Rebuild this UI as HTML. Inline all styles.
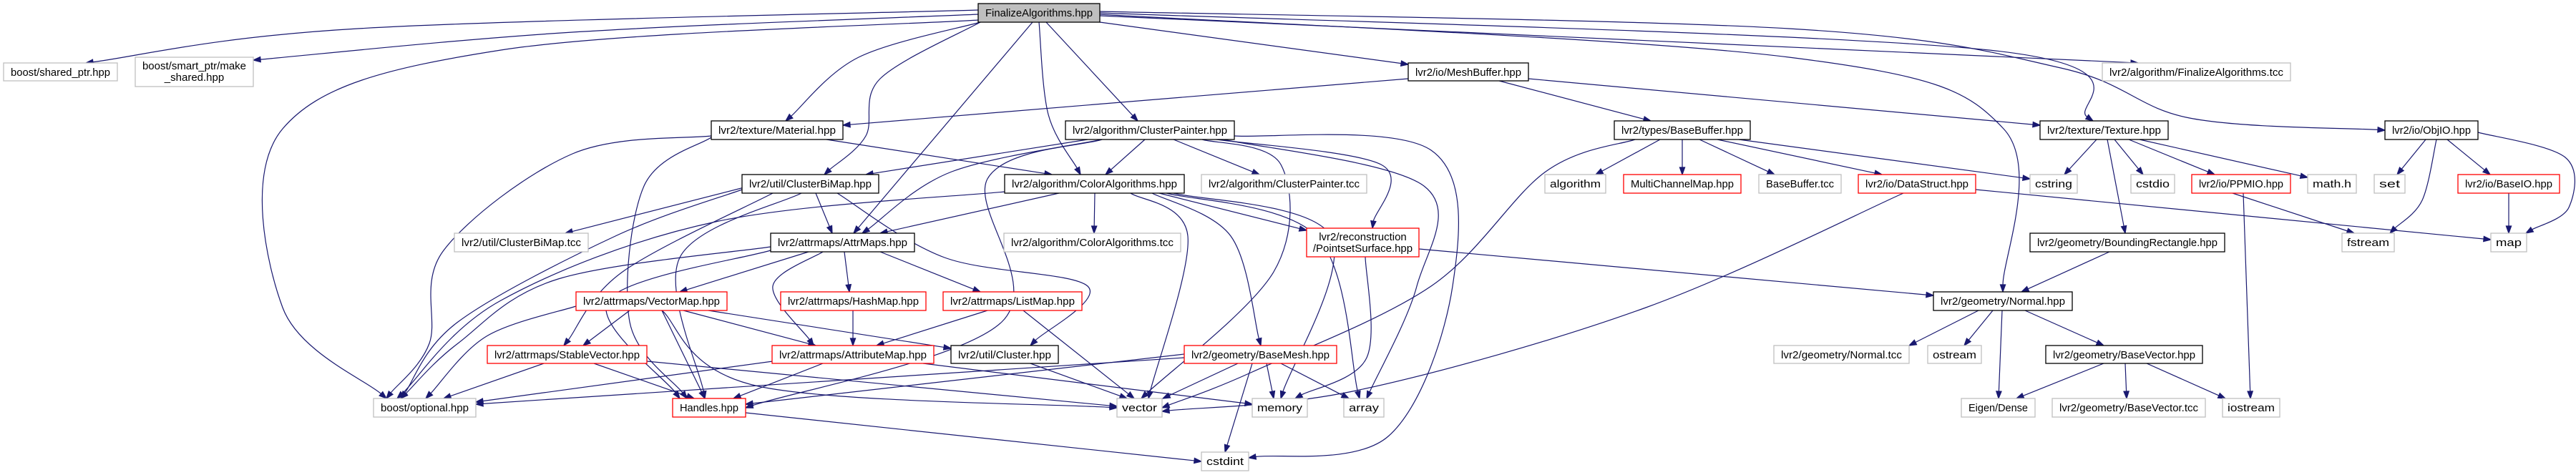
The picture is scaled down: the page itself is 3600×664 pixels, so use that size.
<!DOCTYPE html>
<html><head><meta charset="utf-8">
<style>
html,body{margin:0;padding:0;background:#fff;}
svg{display:block;}
text{font-family:"Liberation Sans Narrow","Liberation Sans",sans-serif;font-size:15px;fill:#000;text-anchor:middle;}
</style></head>
<body>
<svg id="g" width="3600" height="664" viewBox="0 0 3600 664" xmlns="http://www.w3.org/2000/svg">
<g id="edges" fill="none" stroke="#191970" stroke-width="1.2"></g>
<g id="nodes" stroke-width="1.3">
<rect x="1367" y="5" width="170" height="26" fill="#bfbfbf" stroke="#000"/><text x="1452" y="23">FinalizeAlgorithms.hpp</text>
<rect x="5" y="88" width="159" height="25" fill="#fff" stroke="#bfbfbf"/><text x="84.5" y="106">boost/shared_ptr.hpp</text>
<rect x="189" y="80" width="165" height="41" fill="#fff" stroke="#bfbfbf"/><text class="m" x="271.5" y="97">boost/smart_ptr/make</text><text class="m" x="271.5" y="113">_shared.hpp</text>
<rect x="522" y="557" width="143" height="26" fill="#fff" stroke="#bfbfbf"/><text x="593.5" y="575">boost/optional.hpp</text>
<rect x="635" y="326" width="187" height="26" fill="#fff" stroke="#bfbfbf"/><text x="728.5" y="344">lvr2/util/ClusterBiMap.tcc</text>
<rect x="681" y="483" width="223" height="25" fill="#fff" stroke="#ff0000"/><text x="792.5" y="501">lvr2/attrmaps/StableVector.hpp</text>
<rect x="805" y="408" width="211" height="26" fill="#fff" stroke="#ff0000"/><text x="910.5" y="426">lvr2/attrmaps/VectorMap.hpp</text>
<rect x="994" y="169" width="184" height="26" fill="#fff" stroke="#000"/><text x="1086" y="187">lvr2/texture/Material.hpp</text>
<rect x="1489" y="169" width="236" height="26" fill="#fff" stroke="#000"/><text x="1607" y="187">lvr2/algorithm/ClusterPainter.hpp</text>
<rect x="1037" y="244" width="191" height="26" fill="#fff" stroke="#000"/><text x="1132.5" y="262">lvr2/util/ClusterBiMap.hpp</text>
<rect x="1404" y="244" width="251" height="26" fill="#fff" stroke="#000"/><text x="1529.5" y="262">lvr2/algorithm/ColorAlgorithms.hpp</text>
<rect x="1679" y="244" width="231" height="26" fill="#fff" stroke="#bfbfbf"/><text x="1794.5" y="262">lvr2/algorithm/ClusterPainter.tcc</text>
<rect x="1077" y="326" width="201" height="26" fill="#fff" stroke="#000"/><text x="1177.5" y="344">lvr2/attrmaps/AttrMaps.hpp</text>
<rect x="1403" y="326" width="247" height="26" fill="#fff" stroke="#bfbfbf"/><text x="1526.5" y="344">lvr2/algorithm/ColorAlgorithms.tcc</text>
<rect x="1091" y="408" width="203" height="26" fill="#fff" stroke="#ff0000"/><text x="1192.5" y="426">lvr2/attrmaps/HashMap.hpp</text>
<rect x="1318" y="408" width="194" height="26" fill="#fff" stroke="#ff0000"/><text x="1415" y="426">lvr2/attrmaps/ListMap.hpp</text>
<rect x="1079" y="483" width="226" height="25" fill="#fff" stroke="#ff0000"/><text x="1192" y="501">lvr2/attrmaps/AttributeMap.hpp</text>
<rect x="1329" y="483" width="150" height="25" fill="#fff" stroke="#000"/><text x="1404" y="501">lvr2/util/Cluster.hpp</text>
<rect x="1655" y="483" width="213" height="25" fill="#fff" stroke="#ff0000"/><text x="1761.5" y="501">lvr2/geometry/BaseMesh.hpp</text>
<rect x="940" y="557" width="102" height="26" fill="#fff" stroke="#ff0000"/><text x="991" y="575">Handles.hpp</text>
<rect x="1561" y="557" width="63" height="26" fill="#fff" stroke="#bfbfbf"/><text x="1592.5" y="575">vector</text>
<rect x="1750" y="557" width="77" height="26" fill="#fff" stroke="#bfbfbf"/><text x="1788.5" y="575">memory</text>
<rect x="1679" y="632" width="66" height="26" fill="#fff" stroke="#bfbfbf"/><text x="1712" y="650">cstdint</text>
<rect x="1968" y="88" width="168" height="25" fill="#fff" stroke="#000"/><text x="2052" y="106">lvr2/io/MeshBuffer.hpp</text>
<rect x="2256" y="169" width="190" height="26" fill="#fff" stroke="#000"/><text x="2351" y="187">lvr2/types/BaseBuffer.hpp</text>
<rect x="2159" y="244" width="85" height="26" fill="#fff" stroke="#bfbfbf"/><text x="2201.5" y="262">algorithm</text>
<rect x="2269" y="244" width="164" height="26" fill="#fff" stroke="#ff0000"/><text x="2351" y="262">MultiChannelMap.hpp</text>
<rect x="2458" y="244" width="115" height="26" fill="#fff" stroke="#bfbfbf"/><text x="2515.5" y="262">BaseBuffer.tcc</text>
<rect x="2597" y="244" width="164" height="26" fill="#fff" stroke="#ff0000"/><text x="2679" y="262">lvr2/io/DataStruct.hpp</text>
<rect x="1826" y="319" width="157" height="40" fill="#fff" stroke="#ff0000"/><text class="m" x="1904.5" y="336">lvr2/reconstruction</text><text class="m" x="1904.5" y="352">/PointsetSurface.hpp</text>
<rect x="1878" y="557" width="56" height="26" fill="#fff" stroke="#bfbfbf"/><text x="1906" y="575">array</text>
<rect x="2479" y="483" width="189" height="25" fill="#fff" stroke="#bfbfbf"/><text x="2573.5" y="501">lvr2/geometry/Normal.tcc</text>
<rect x="2694" y="483" width="75" height="25" fill="#fff" stroke="#bfbfbf"/><text x="2731.5" y="501">ostream</text>
<rect x="2938" y="88" width="263" height="25" fill="#fff" stroke="#bfbfbf"/><text x="3069.5" y="106">lvr2/algorithm/FinalizeAlgorithms.tcc</text>
<rect x="2851" y="169" width="179" height="26" fill="#fff" stroke="#000"/><text x="2940.5" y="187">lvr2/texture/Texture.hpp</text>
<rect x="3333" y="169" width="130" height="26" fill="#fff" stroke="#000"/><text x="3398" y="187">lvr2/io/ObjIO.hpp</text>
<rect x="2837" y="244" width="66" height="26" fill="#fff" stroke="#bfbfbf"/><text x="2870" y="262">cstring</text>
<rect x="2978" y="244" width="61" height="26" fill="#fff" stroke="#bfbfbf"/><text x="3008.5" y="262">cstdio</text>
<rect x="3063" y="244" width="138" height="26" fill="#fff" stroke="#ff0000"/><text x="3132" y="262">lvr2/io/PPMIO.hpp</text>
<rect x="3225" y="244" width="68" height="26" fill="#fff" stroke="#bfbfbf"/><text x="3259" y="262">math.h</text>
<rect x="3318" y="244" width="43" height="26" fill="#fff" stroke="#bfbfbf"/><text x="3339.5" y="262">set</text>
<rect x="3435" y="244" width="142" height="26" fill="#fff" stroke="#ff0000"/><text x="3506" y="262">lvr2/io/BaseIO.hpp</text>
<rect x="2837" y="326" width="272" height="26" fill="#fff" stroke="#000"/><text x="2973" y="344">lvr2/geometry/BoundingRectangle.hpp</text>
<rect x="3273" y="326" width="73" height="26" fill="#fff" stroke="#bfbfbf"/><text x="3309.5" y="344">fstream</text>
<rect x="3481" y="326" width="50" height="26" fill="#fff" stroke="#bfbfbf"/><text x="3506" y="344">map</text>
<rect x="2702" y="408" width="194" height="26" fill="#fff" stroke="#000"/><text x="2799" y="426">lvr2/geometry/Normal.hpp</text>
<rect x="2859" y="483" width="219" height="25" fill="#fff" stroke="#000"/><text x="2968.5" y="501">lvr2/geometry/BaseVector.hpp</text>
<rect x="2741" y="557" width="103" height="26" fill="#fff" stroke="#bfbfbf"/><text x="2792.5" y="575">Eigen/Dense</text>
<rect x="2868" y="557" width="214" height="26" fill="#fff" stroke="#bfbfbf"/><text x="2975" y="575">lvr2/geometry/BaseVector.tcc</text>
<rect x="3106" y="557" width="80" height="26" fill="#fff" stroke="#bfbfbf"/><text x="3146" y="575">iostream</text>
</g>
</svg>
<script>
var E=[
["F","SP",[1367,14],[120,88],[[500,40]]],
["F","MS",[1367,20],[354,84],[[800,45]]],
["F","BO",[1367,28],[540,557],[[700,70],[395,180],[395,430]]],
["F","MAT",[1370,31],[1098,169],[[1200,80]]],
["F","CBM",[1370,31],[1152,244],[[1230,110],[1210,190]]],
["F","AM",[1443,31],[1193,326]],
["F","CA",[1452,31],[1510,244],[[1465,160]]],
["F","CP",[1462,31],[1590,169]],
["F","MB",[1537,31],[1968,90]],
["F","NOR",[1537,20],[2799,408],[[2500,80],[2800,180]]],
["F","TEX",[1537,18],[2925,169],[[2780,70]]],
["F","FAT",[1537,22],[2988,88]],
["F","OBJ",[1537,16],[3333,182],[[2500,40],[2880,95],[3060,165]]],
["MB","MAT",[1968,110],[1178,175]],
["MB","BB",[2095,113],[2307,169]],
["MB","TEX",[2136,110],[2851,175]],
["MAT","CA",[1155,195],[1470,244]],
["MAT","BO",[994,190],[540,557],[[800,215],[620,350],[600,480]]],
["MAT","HD",[994,192],[960,557],[[900,260],[880,450]]],
["CP","CBM",[1520,195],[1210,244]],
["CP","CA",[1600,195],[1545,244]],
["CP","CPT",[1640,195],[1760,244]],
["CP","AM",[1540,195],[1205,326],[[1330,240]]],
["CP","PS",[1700,195],[1918,319],[[1930,230]]],
["CP","ARR",[1710,195],[1910,557],[[1990,260],[1980,400]]],
["CP","VEC",[1680,195],[1595,557],[[1790,230],[1780,380]]],
["CP","CI",[1725,190],[1745,640],[[2000,210],[2030,400],[1940,610]]],
["CP","HD",[1540,195],[1042,570],[[1380,250],[1400,450]]],
["CBM","CBT",[1040,262],[790,326]],
["CBM","AM",[1140,270],[1163,326]],
["CBM","SV",[1080,270],[788,483],[[870,380]]],
["CBM","HD",[1120,270],[985,557],[[950,360]]],
["CBM","CL",[1170,270],[1440,483],[[1320,360],[1520,400]]],
["CBM","BO",[1037,265],[560,557],[[860,330],[640,450]]],
["CA","AM",[1480,270],[1230,326]],
["CA","CAT",[1530,270],[1529,326]],
["CA","VEC",[1580,270],[1605,557],[[1660,330]]],
["CA","BM",[1610,270],[1762,483],[[1720,330]]],
["CA","PS",[1620,270],[1826,322]],
["CA","ARR",[1630,270],[1900,557],[[1840,330]]],
["CA","MEM",[1640,270],[1790,557],[[1860,330]]],
["CA","BO",[1404,268],[555,557],[[1000,310],[700,420]]],
["AM","VM",[1130,352],[950,408]],
["AM","HM",[1180,352],[1187,408]],
["AM","LM",[1230,352],[1370,408]],
["AM","ATM",[1150,352],[1137,483],[[1080,400]]],
["AM","HD",[1077,350],[950,557],[[850,420]]],
["AM","BO",[1077,345],[560,557],[[780,390],[640,480]]],
["VM","SV",[880,434],[815,483]],
["VM","ATM",[955,434],[1140,483]],
["VM","HD",[925,434],[985,557]],
["VM","CL",[990,434],[1329,487]],
["VM","VEC",[925,434],[1561,570],[[1060,540]]],
["VM","BO",[805,428],[595,557],[[680,470]]],
["HM","ATM",[1192,434],[1192,483]],
["LM","ATM",[1380,434],[1225,483]],
["LM","VEC",[1430,434],[1585,557]],
["SV","BO",[760,508],[620,557]],
["SV","HD",[830,508],[970,557]],
["SV","VEC",[904,505],[1561,568]],
["ATM","HD",[1150,508],[1025,557]],
["ATM","MEM",[1290,508],[1750,565]],
["ATM","BO",[1080,505],[665,562]],
["CL","VEC",[1440,508],[1575,557]],
["BM","HD",[1655,495],[1042,565]],
["BM","BO",[1655,500],[665,565]],
["BM","VEC",[1730,508],[1625,557]],
["BM","MEM",[1770,508],[1780,557]],
["BM","ARR",[1790,508],[1885,557]],
["BM","CI",[1750,508],[1712,632]],
["HD","CI",[1042,577],[1679,645]],
["PS","NOR",[1983,348],[2702,413]],
["PS","MEM",[1908,359],[1810,557],[[1910,500]]],
["BB","VEC",[2285,195],[1624,570],[[2160,240],[2000,400],[1750,520]]],
["BB","ALG",[2320,195],[2230,244]],
["BB","MCM",[2351,195],[2351,244]],
["BB","BBT",[2375,195],[2480,244]],
["BB","DS",[2400,195],[2630,244]],
["BB","CS",[2430,195],[2837,250]],
["DS","VEC",[2660,270],[1624,575],[[2300,430],[1900,545]]],
["DS","MAP",[2761,265],[3481,335]],
["TEX","CS",[2930,195],[2885,244]],
["TEX","CSD",[2955,195],[2995,244]],
["TEX","PPM",[2975,195],[3095,244]],
["TEX","MATH",[2990,195],[3225,248]],
["TEX","BR",[2945,195],[2970,326]],
["PPM","FS",[3120,270],[3290,326]],
["PPM","IOS",[3135,270],[3145,557]],
["OBJ","SET",[3390,195],[3350,244]],
["OBJ","FS",[3405,195],[3340,326],[[3385,280]]],
["OBJ","BIO",[3420,195],[3480,244]],
["OBJ","MAP",[3463,185],[3530,326],[[3585,220],[3590,290]]],
["BIO","MAP",[3506,270],[3506,326]],
["BR","NOR",[2948,352],[2825,408]],
["NOR","NT",[2765,434],[2668,483]],
["NOR","OS",[2785,434],[2745,483]],
["NOR","ED",[2798,434],[2793,557]],
["NOR","BV",[2830,434],[2940,483]],
["BV","ED",[2940,508],[2818,557]],
["BV","BVT",[2970,508],[2972,557]],
["BV","IOS",[3000,508],[3110,557]]
];
var eg=document.getElementById("edges"),ns="http://www.w3.org/2000/svg";
function pathFor(pts){
 if(pts.length==2)return "M"+pts[0]+" L"+pts[1];
 var d="M"+pts[0][0]+","+pts[0][1];
 for(var i=0;i<pts.length-1;i++){
  var p0=pts[i-1]||pts[i],p1=pts[i],p2=pts[i+1],p3=pts[i+2]||p2;
  var c1=[p1[0]+(p2[0]-p0[0])/6,p1[1]+(p2[1]-p0[1])/6];
  var c2=[p2[0]-(p3[0]-p1[0])/6,p2[1]-(p3[1]-p1[1])/6];
  d+=" C"+c1+" "+c2+" "+p2;
 }
 return d;
}
E.forEach(function(e){
 var s=e[2],t=e[3],v=e[4]||[];
 var prev=v.length?v[v.length-1]:s;
 var dx=t[0]-prev[0],dy=t[1]-prev[1],L=Math.sqrt(dx*dx+dy*dy)||1;
 var ux=dx/L,uy=dy/L,al=10,aw=3.6;
 var b=[t[0]-ux*al,t[1]-uy*al];
 var pts=[s].concat(v).concat([b]);
 var p=document.createElementNS(ns,"path");p.setAttribute("d",pathFor(pts));eg.appendChild(p);
 var a=document.createElementNS(ns,"polygon");
 a.setAttribute("points",t[0]+","+t[1]+" "+(b[0]-uy*aw)+","+(b[1]+ux*aw)+" "+(b[0]+uy*aw)+","+(b[1]-ux*aw));
 a.setAttribute("fill","#191970");eg.appendChild(a);
});
// fit single-line labels to box width
var ts=document.querySelectorAll("#nodes text");
for(var i=0;i<ts.length;i++){
 var t=ts[i];if(t.getAttribute("class")=="m")continue;
 var r=t.previousElementSibling;if(!r||r.tagName!="rect")continue;
 var w=parseFloat(r.getAttribute("width"))-(parseFloat(r.getAttribute("width"))<90?14:20);
 t.setAttribute("textLength",w);t.setAttribute("lengthAdjust","spacingAndGlyphs");
}
</script>
</body></html>
